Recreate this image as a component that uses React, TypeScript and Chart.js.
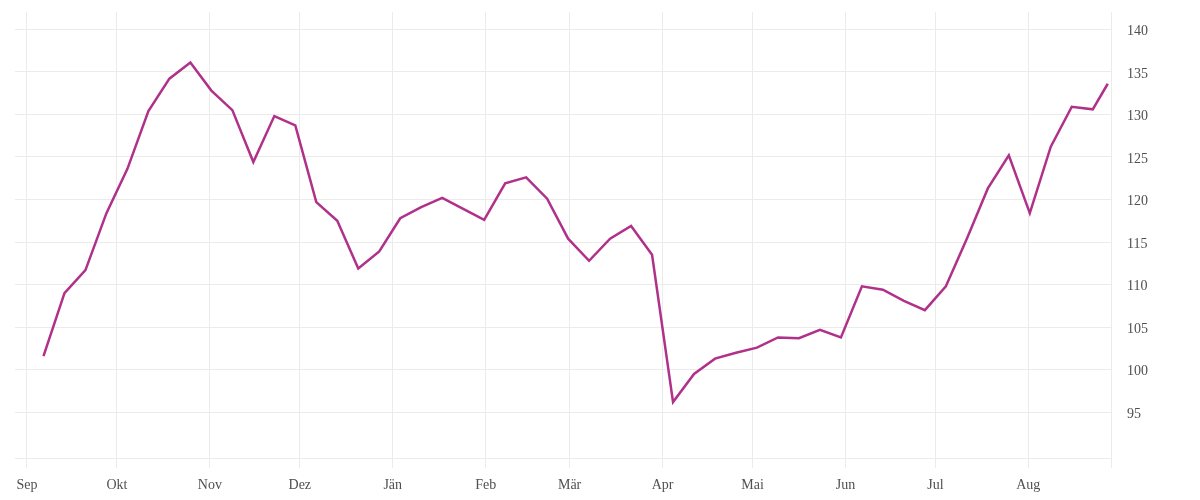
import React, { useEffect, useRef } from "react";
import { Chart, registerables } from "chart.js";

Chart.register(...registerables);

const dates: string[] = [
  "2022-09-06", "2022-09-13", "2022-09-20", "2022-09-27",
  "2022-10-04", "2022-10-11", "2022-10-18", "2022-10-25",
  "2022-11-01", "2022-11-08", "2022-11-15", "2022-11-22", "2022-11-29",
  "2022-12-06", "2022-12-13", "2022-12-20", "2022-12-27",
  "2023-01-03", "2023-01-10", "2023-01-17", "2023-01-24", "2023-01-31",
  "2023-02-07", "2023-02-14", "2023-02-21", "2023-02-28",
  "2023-03-07", "2023-03-14", "2023-03-21", "2023-03-28",
  "2023-04-04", "2023-04-11", "2023-04-18", "2023-04-25",
  "2023-05-02", "2023-05-09", "2023-05-16", "2023-05-23", "2023-05-30",
  "2023-06-06", "2023-06-13", "2023-06-20", "2023-06-27",
  "2023-07-04", "2023-07-11", "2023-07-18", "2023-07-25",
  "2023-08-01", "2023-08-08", "2023-08-15", "2023-08-22", "2023-08-27",
];

const values: number[] = [
  101.6, 109.0, 111.7, 118.4,
  123.6, 130.4, 134.2, 136.1,
  132.8, 130.5, 124.4, 129.8, 128.7,
  119.7, 117.5, 111.9, 113.9,
  117.8, 119.1, 120.2, 118.9, 117.6,
  121.9, 122.6, 120.1, 115.4,
  112.8, 115.4, 116.9, 113.5,
  96.2, 99.5, 101.3, 102.0,
  102.6, 103.8, 103.7, 104.7, 103.8,
  109.8, 109.4, 108.1, 107.0,
  109.8, 115.4, 121.3, 125.2,
  118.4, 126.2, 130.9, 130.6, 133.6,
];

const monthStarts: string[] = [
  "2022-09-01", "2022-10-01", "2022-11-01", "2022-12-01",
  "2023-01-01", "2023-02-01", "2023-03-01", "2023-04-01",
  "2023-05-01", "2023-06-01", "2023-07-01", "2023-08-01",
];
const monthLabels: string[] = [
  "Sep", "Okt", "Nov", "Dez", "Jän", "Feb", "Mär", "Apr", "Mai", "Jun", "Jul", "Aug",
];
const yTicks: number[] = [95, 100, 105, 110, 115, 120, 125, 130, 135, 140];

const X_START = "2022-08-28T00:00:00Z";
const X_END = "2023-08-28T14:00:00Z";
const Y_MIN = 89.63;
const Y_MAX = 142.03;

const ORIGIN = Date.UTC(2022, 8, 1);
const DAY = 86400000;
const toDays = (s: string) => (Date.parse(s) - ORIGIN) / DAY;

const GRID = "#ebebeb";
const TEXT = "#505050";
const FONT = { family: "'Liberation Serif', serif", size: 14 };

export default function App() {
  const ref = useRef<HTMLCanvasElement | null>(null);

  useEffect(() => {
    if (!ref.current) return;
    const xMin = toDays(X_START);
    const xMax = toDays(X_END);
    const chart = new Chart(ref.current, {
      type: "line",
      data: {
        datasets: [
          {
            data: dates.map((d, i) => ({ x: toDays(d + "T12:00:00Z"), y: values[i] })),
            borderColor: "#b0318a",
            borderWidth: 2.5,
            pointRadius: 0,
            tension: 0,
            fill: false,
          },
        ],
      },
      options: {
        responsive: false,
        maintainAspectRatio: false,
        animation: false,
        layout: { padding: { left: 15, top: 12, right: 0, bottom: 0 } },
        plugins: { legend: { display: false }, tooltip: { enabled: false } },
        scales: {
          x: {
            type: "linear",
            min: xMin,
            max: xMax,
            afterBuildTicks: (s: any) => {
              s.ticks = [...monthStarts.map((m) => toDays(m + "T00:00:00Z")), xMax].map((v) => ({ value: v }));
            },
            afterFit: (s: any) => {
              s.height = 42;
              s.paddingLeft = 0;
              s.paddingRight = 0;
            },
            ticks: {
              callback: (_v: any, i: number) => monthLabels[i] ?? "",
              font: FONT,
              color: TEXT,
              padding: 9,
              maxRotation: 0,
              autoSkip: false,
            },
            grid: { color: GRID, lineWidth: 1, drawTicks: true, tickLength: 10 },
            border: { display: true, color: GRID, width: 1 },
          },
          y: {
            type: "linear",
            position: "right",
            min: Y_MIN,
            max: Y_MAX,
            afterBuildTicks: (s: any) => {
              s.ticks = yTicks.map((v) => ({ value: v }));
            },
            afterFit: (s: any) => {
              s.width = 89;
              s.paddingTop = 0;
              s.paddingBottom = 0;
            },
            ticks: { font: FONT, color: TEXT, padding: 16, labelOffset: 2 },
            grid: { color: GRID, lineWidth: 1, drawTicks: false },
            border: { display: false },
          },
        },
      },
    } as any);
    return () => chart.destroy();
  }, []);

  return (
    <div style={{ position: "absolute", left: 0, top: 0, width: 1200, height: 500, background: "#fff" }}>
      <canvas ref={ref} width={1200} height={500} style={{ display: "block", width: 1200, height: 500 }} />
    </div>
  );
}
